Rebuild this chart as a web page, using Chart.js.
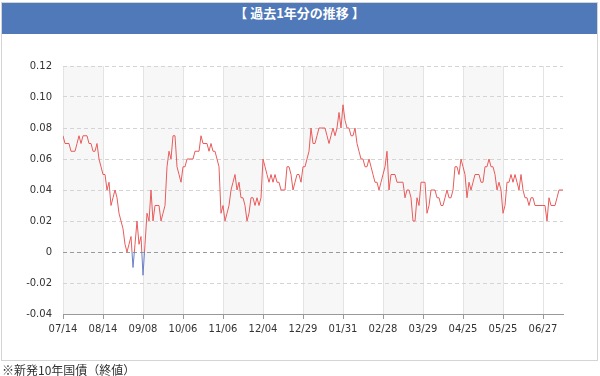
<!DOCTYPE html>
<html lang="ja">
<head>
  <meta charset="UTF-8" />
  <title>過去1年分の推移</title>
  <script src="https://cdn.jsdelivr.net/npm/chart.js"></script>
  <style>
    body { margin: 0; background: #fff; }
    #wrap { position: relative; width: 600px; height: 376px; overflow: hidden; }
    #box { position: absolute; left: 1px; top: 2px; width: 595px; height: 357px; border: 1px solid #d4d4d4; }
    #head {
      position: absolute; left: 2px; top: 3px; width: 595px; height: 31px;
      background: #4f79b8; color: #fff; text-align: center; line-height: 31px;
      font: bold 13px "Noto Sans CJK JP", sans-serif;
    }
    #chart { position: absolute; left: 0; top: 0; }
    #note {
      position: absolute; left: 2px; top: 361px; color: #333;
      font: 12px "Noto Sans CJK JP", sans-serif;
    }
  </style>
</head>
<body>
  <div id="wrap">
    <div id="box"></div>
    <div id="head">【 過去1年分の推移 】</div>
    <canvas id="chart" width="600" height="376"></canvas>
    <div id="note">※新発10年国債（終値）</div>
  </div>

  <script>
    // x axis labels, one every 20 trading days
    const tickLabels = ['07/14', '08/14', '09/08', '10/06', '11/06', '12/04', '12/29',
                        '01/31', '02/28', '03/29', '04/25', '05/25', '06/27'];
    const tickEvery = 20;

    // daily closing yield (%)
    const yields = [
      0.075, 0.070, 0.070, 0.070, 0.065, 0.065, 0.065, 0.070, 0.075, 0.070,
      0.075, 0.075, 0.075, 0.070, 0.070, 0.065, 0.065, 0.070, 0.060, 0.055,
      0.050, 0.050, 0.040, 0.045, 0.030, 0.035, 0.040, 0.035, 0.025, 0.020,
      0.015, 0.005, 0.000, 0.005, 0.010, -0.010, 0.005, 0.020, 0.005, 0.010,
      -0.015, 0.005, 0.025, 0.020, 0.040, 0.020, 0.030, 0.030, 0.030, 0.020,
      0.025, 0.030, 0.055, 0.065, 0.060, 0.075, 0.075, 0.055, 0.050, 0.045,
      0.055, 0.055, 0.060, 0.060, 0.060, 0.060, 0.065, 0.065, 0.065, 0.075,
      0.070, 0.070, 0.070, 0.065, 0.070, 0.065, 0.065, 0.060, 0.055, 0.025,
      0.030, 0.020, 0.025, 0.030, 0.040, 0.045, 0.050, 0.040, 0.045, 0.035,
      0.035, 0.030, 0.020, 0.025, 0.035, 0.035, 0.030, 0.035, 0.030, 0.035,
      0.060, 0.055, 0.050, 0.045, 0.050, 0.045, 0.050, 0.045, 0.045, 0.040,
      0.040, 0.040, 0.055, 0.055, 0.050, 0.040, 0.045, 0.050, 0.050, 0.045,
      0.055, 0.055, 0.060, 0.065, 0.080, 0.070, 0.070, 0.075, 0.080, 0.080,
      0.080, 0.080, 0.075, 0.070, 0.075, 0.080, 0.075, 0.080, 0.090, 0.080,
      0.095, 0.085, 0.080, 0.080, 0.075, 0.075, 0.080, 0.070, 0.065, 0.060,
      0.060, 0.055, 0.055, 0.060, 0.055, 0.050, 0.045, 0.045, 0.040, 0.045,
      0.050, 0.055, 0.065, 0.040, 0.050, 0.050, 0.050, 0.045, 0.045, 0.045,
      0.045, 0.035, 0.040, 0.040, 0.035, 0.020, 0.020, 0.035, 0.030, 0.045,
      0.045, 0.045, 0.025, 0.030, 0.040, 0.040, 0.040, 0.035, 0.035, 0.030,
      0.030, 0.035, 0.040, 0.035, 0.035, 0.040, 0.055, 0.055, 0.050, 0.060,
      0.055, 0.050, 0.035, 0.045, 0.040, 0.045, 0.050, 0.050, 0.050, 0.045,
      0.045, 0.055, 0.055, 0.060, 0.055, 0.055, 0.050, 0.040, 0.045, 0.040,
      0.025, 0.030, 0.045, 0.045, 0.050, 0.045, 0.050, 0.045, 0.040, 0.050,
      0.040, 0.035, 0.035, 0.030, 0.035, 0.035, 0.030, 0.030, 0.030, 0.030,
      0.030, 0.030, 0.020, 0.035, 0.030, 0.030, 0.030, 0.035, 0.040, 0.040,
      0.040
    ];

    const yMin = -0.04;
    const yMax = 0.12;
    const yStep = 0.02;

    const posColor = '#e95b5b';
    const negColor = '#6b80c6';

    // alternate grey columns between the month ticks
    const bandPlugin = {
      id: 'bands',
      beforeDraw(chart) {
        const { ctx, chartArea, scales } = chart;
        ctx.save();
        ctx.fillStyle = '#f7f7f7';
        for (let i = 0; i < tickLabels.length - 1; i += 2) {
          const x1 = scales.x.getPixelForValue(i * tickEvery);
          const x2 = scales.x.getPixelForValue((i + 1) * tickEvery);
          ctx.fillRect(x1, chartArea.top, x2 - x1, chartArea.bottom - chartArea.top);
        }
        ctx.restore();
      }
    };

    // red above zero, blue below
    function lineColor(context) {
      const { ctx, chartArea, scales } = context.chart;
      if (!chartArea) return posColor;
      const zero = scales.y.getPixelForValue(0);
      const stop = (zero - chartArea.top) / (chartArea.bottom - chartArea.top);
      const g = ctx.createLinearGradient(0, chartArea.top, 0, chartArea.bottom);
      g.addColorStop(0, posColor);
      g.addColorStop(stop, posColor);
      g.addColorStop(stop, negColor);
      g.addColorStop(1, negColor);
      return g;
    }

    const tickFont = { family: '"DejaVu Sans", Verdana, sans-serif', size: 10 };

    new Chart(document.getElementById('chart'), {
      type: 'line',
      data: {
        datasets: [{
          data: yields.map((v, i) => ({ x: i, y: v })),
          borderColor: lineColor,
          borderWidth: 1,
          pointRadius: 0,
          tension: 0
        }]
      },
      options: {
        responsive: false,
        animation: false,
        layout: { padding: { top: 66, right: 37, left: 0, bottom: 0 } },
        plugins: { legend: { display: false }, tooltip: { enabled: false } },
        scales: {
          x: {
            type: 'linear',
            min: 0,
            max: yields.length - 1,
            afterBuildTicks: (s) => { s.ticks = tickLabels.map((_, i) => ({ value: i * tickEvery })); },
            afterFit: (s) => { s.height = 62; },
            ticks: {
              autoSkip: false,
              maxRotation: 0,
              padding: 4,
              color: '#333',
              font: tickFont,
              callback: (v) => tickLabels[Math.round(v / tickEvery)]
            },
            grid: { color: '#e4e4e4', tickColor: '#999', tickLength: 5 },
            border: { color: '#999' }
          },
          y: {
            min: yMin,
            max: yMax,
            afterFit: (s) => { s.width = 63; },
            ticks: {
              stepSize: yStep,
              padding: 11,
              color: '#333',
              font: tickFont,
              callback: (v) => Math.abs(v) < 1e-9 ? '0' : v.toFixed(2)
            },
            grid: {
              drawTicks: false,
              color: (c) => Math.abs(c.tick.value) < 1e-9 ? '#999' : '#d4d4d4'
            },
            border: { display: false, dash: [4, 3] }
          }
        }
      },
      plugins: [bandPlugin]
    });
  </script>
</body>
</html>
